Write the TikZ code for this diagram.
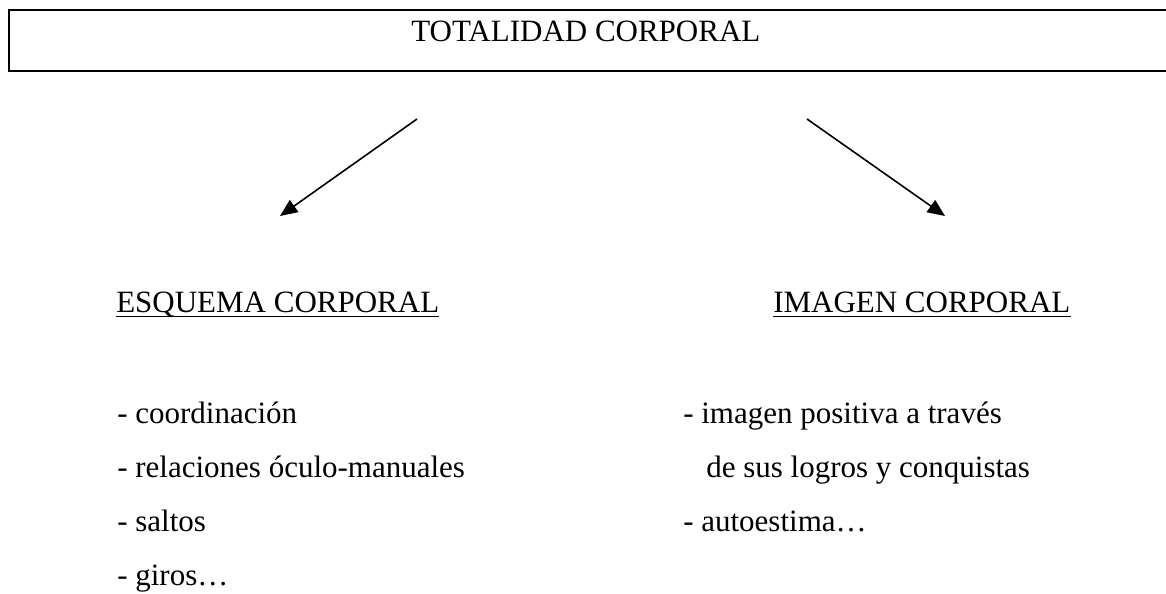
\documentclass[tikz,border=0pt]{standalone}
\usepackage{fontspec}
\setmainfont{Liberation Serif}
\usetikzlibrary{arrows.meta}

\begin{document}
\begin{tikzpicture}[x=0.75pt, y=-0.75pt,
        txt/.style={anchor=base west, inner sep=0pt, font=\fontsize{23.25}{28}\selectfont},
        arr/.style={line width=1.2pt, -{Triangle[length=13pt, width=11pt]}},
        uline/.style={line width=1.1pt}]
        \useasboundingbox (0,0) rectangle (1166,593);

        % Box
        \draw[line width=1.6pt] (9,10) rectangle (1180,71);
        \node[txt] (total) at (411,41) {TOTALIDAD CORPORAL};

        % Arrows
        \coordinate (l1) at (417,119);
        \coordinate (l2) at (280,216);
        \coordinate (r1) at (807,119);
        \coordinate (r2) at (945,216);
        \draw[arr] (l1) -- (l2);
        \draw[arr] (r1) -- (r2);

        % Headings
        \node[txt] (esq) at (116,312) {ESQUEMA CORPORAL};
        \node[txt] (ima) at (773,312) {IMAGEN CORPORAL};
        \draw[uline] ([yshift=-3.5pt]esq.base west) -- ([yshift=-3.5pt]esq.base east);
        \draw[uline] ([yshift=-3.5pt]ima.base west) -- ([yshift=-3.5pt]ima.base east);

        % Labels
        \node[txt] (e1) at (117,423) {- coordinación};
        \node[txt] (e2) at (117,477) {- relaciones óculo-manuales};
        \node[txt] (e3) at (117,531) {- saltos};
        \node[txt] (e4) at (117,585) {- giros…};
        \node[txt] (i1) at (683,423) {- imagen positiva a través};
        \node[txt] (i2) at (706,477) {de sus logros y conquistas};
        \node[txt] (i3) at (683,531) {- autoestima…};
    \end{tikzpicture}
\end{document}
